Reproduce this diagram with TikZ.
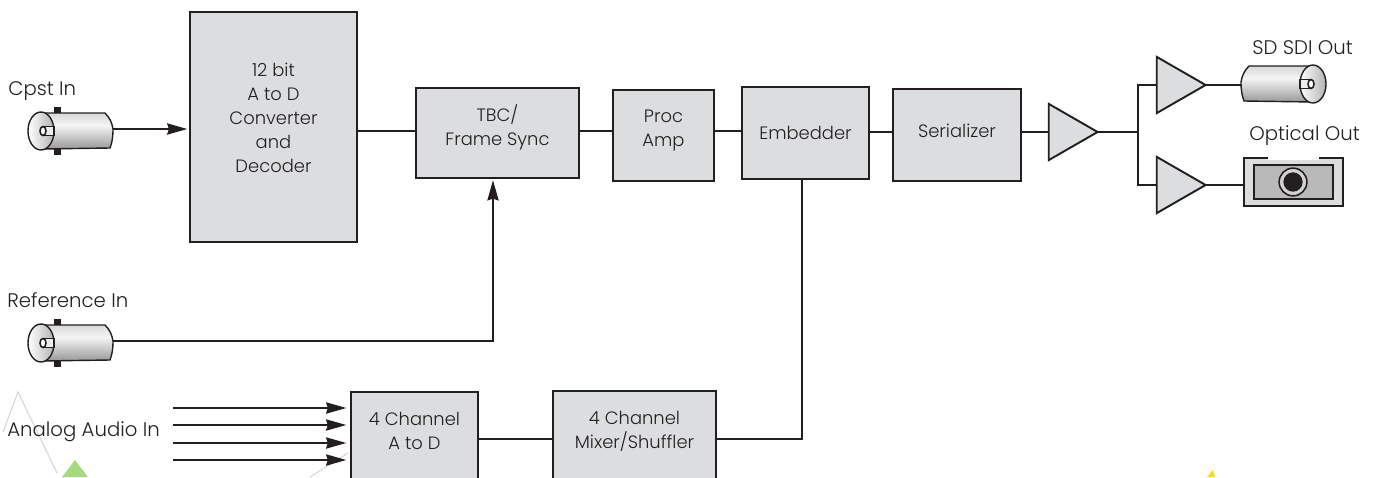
\documentclass[tikz,border=0pt]{standalone}
\usepackage{fontspec}
\setmainfont[UprightFont=* Light]{Poppins}
\usetikzlibrary{arrows.meta,shapes.geometric}
\definecolor{boxGray}{RGB}{220,221,223}
\definecolor{lineDark}{RGB}{35,31,32}
\pgfdeclareverticalshading{barrelgray}{100bp}{color(0bp)=(gray!80); color(25bp)=(gray!80);
  color(58bp)=(gray!8); color(75bp)=(gray!30); color(100bp)=(gray!30)}
\newcommand{\liftup}[1]{\\[\dimexpr#1-11pt\relax]\mbox{}}
\tikzset{
  blockbox/.style={rectangle, draw=lineDark, fill=boxGray, line width=1.1pt, inner sep=0pt,
                   align=center, font=\fontsize{10.2}{13.6}\selectfont, text=lineDark},
  tag/.style={anchor=west, inner sep=0pt, font=\fontsize{11.2}{12}\selectfont, text=lineDark},
  wire/.style={draw=lineDark, line width=1pt},
  feed/.style={wire, -{Stealth[length=11.5pt,width=6.4pt,inset=1pt]}, shorten >=1pt},
  amp/.style={isosceles triangle, isosceles triangle stretches, shape border rotate=0,
              draw=lineDark, fill=boxGray, line width=1.1pt, inner sep=0pt, outer sep=0pt,
              minimum height=27.8pt, minimum width=32pt},
  bnc/.pic={
    \shade[shading=barrelgray]
      (0,-18) -- (64,-18) .. controls (69,-13) and (71,-8) .. (72,-2)
      .. controls (72,6) and (71,12) .. (69,17) -- (0,18) -- cycle;
    \draw[lineDark, line width=0.8pt]
      (0,-18) -- (64,-18) .. controls (69,-13) and (71,-8) .. (72,-2)
      .. controls (72,6) and (71,12) .. (69,17) -- (0,18);
    \shade[left color=white, right color=gray!60] (0,0) ellipse (13 and 19);
    \draw[lineDark, line width=0.8pt] (0,0) ellipse (13 and 19);
    \filldraw[draw=lineDark, fill=gray!15, line width=0.7pt] (2,-4.5) rectangle (13,4.5);
    \draw[lineDark, line width=0.9pt, fill=white] (2,0) ellipse (3 and 4.5);
    \coordinate (-tip) at (72,-2);
  },
  tabs/.pic={
    \fill[lineDark] (13,-24) rectangle (20,-18);
    \fill[lineDark] (13,18) rectangle (20,24);
  }
}

\begin{document}
\begin{tikzpicture}[x=0.02cm, y=-0.02cm]
  \useasboundingbox (0,0) rectangle (1373,477);
  \clip (0,0) rectangle (1373,477);

  % faint marks along the lower edge
  \draw[gray!30, line width=0.7pt] (3,432) -- (18,392) -- (57,473);
  \draw[gray!30, line width=0.7pt] (348,453) -- (310,477);
  \fill[green!40!olive!50!white] (75,460) -- (62,477) -- (88,477) -- cycle;
  \fill[yellow!80!orange] (1213,470) -- (1207,477) -- (1215,477) -- cycle;

  % blocks
  \node[blockbox, minimum width=95pt, minimum height=130.4pt] (adc) at (273.5,127)
    {12 bit\\A to D\\Converter\\and\\Decoder\liftup{8pt}};
  \node[blockbox, minimum width=92.4pt, minimum height=51pt] (tbc) at (497.5,133)
    {TBC/\\Frame Sync\liftup{6.8pt}};
  \node[blockbox, minimum width=57.3pt, minimum height=51.6pt] (proc) at (663.5,135.5)
    {Proc\\Amp\liftup{5.7pt}};
  \node[blockbox, minimum width=72pt, minimum height=52.2pt] (embed) at (805.5,133) {Embedder};
  \node[blockbox, minimum width=72.6pt, minimum height=52.8pt] (serial) at (957,135)
    {Serializer\liftup{2.3pt}};
  \node[blockbox, minimum width=72pt, minimum height=55.5pt] (audio) at (414.5,441)
    {4 Channel\\A to D\liftup{9pt}};
  \node[blockbox, minimum width=92.4pt, minimum height=56pt] (mixer) at (634.5,440.5)
    {4 Channel\\Mixer/Shuffler\liftup{10pt}};

  % amplifiers
  \node[amp] (ampa) at (1065,132) {};
  \node[amp] (ampb) at (1173,85) {};
  \node[amp] (ampc) at (1173,185) {};

  % connectors
  \pic (cpst) at (41,131) {bnc};
  \pic at (41,131) {tabs};
  \pic (ref) at (41,343) {bnc};
  \pic at (41,343) {tabs};
  \pic[xscale=-1] (sdi) at (1313,84) {bnc};

  \node[rectangle, draw=lineDark, fill=boxGray, line width=1.1pt, minimum width=56pt,
        minimum height=27pt, inner sep=0pt] (optic) at (1293.5,182) {};
  \node[rectangle, draw=lineDark, fill=gray!55, line width=1.1pt, minimum width=44.8pt,
        minimum height=19.3pt, inner sep=0pt] (optin) at (1293.5,182) {};
  \fill[white] (1268,157) rectangle (1319,159.5);
  \node[circle, draw=lineDark, fill=gray!35, line width=0.9pt, minimum size=15.8pt,
        inner sep=0pt] (lensa) at (1293,182) {};
  \node[circle, fill=lineDark, minimum size=11pt, inner sep=0pt] (lensb) at (1293,182) {};

  % labels
  \node[tag] (cpstlbl) at (8,91) {Cpst In};
  \node[tag] (reflbl) at (7,300) {Reference In};
  \node[tag] (audiolbl) at (7,432) {Analog Audio In};
  \node[tag] (sdilbl) at (1252,48) {SD SDI Out};
  \node[tag] (optlbl) at (1249,136) {Optical Out};

  % signal path
  \coordinate (wa) at (0,131);
  \coordinate (wb) at (0,132);
  \coordinate (wc) at (0,439);
  \coordinate (refin) at (493,178.5);
  \coordinate (drop) at (802,439);
  \coordinate (fork) at (1138,132);
  \draw[feed] (cpst-tip) -- (adc.west |- cpst-tip);
  \draw[wire] (adc.east |- wa) -- (tbc.west |- wa);
  \draw[wire] (tbc.east |- wa) -- (proc.west |- wa);
  \draw[wire] (proc.east |- wa) -- (embed.west |- wa);
  \draw[wire] (embed.east |- wb) -- (serial.west |- wb);
  \draw[wire] (serial.east |- wb) -- (ampa.west |- wb);
  \draw[feed] (ref-tip) -| (refin);
  \draw[wire] (ampa.apex) -- (fork);
  \draw[wire] (ampb.west) -| (ampc.west -| fork) -- (ampc.west);
  \draw[wire] (ampb.apex) -- (sdi-tip |- ampb.apex);
  \draw[wire] (ampc.apex) -- (optic.west |- ampc.apex);
  \draw[wire] (embed.south -| drop) -- (drop) -- (mixer.east |- drop);
  \draw[wire] (audio.east |- wc) -- (mixer.west |- wc);

  % audio inputs
  \foreach \n/\y in {a/408,b/425,c/443,d/460}{
    \coordinate (ain\n) at (173,\y);
    \draw[feed, shorten >=2.3pt] (ain\n) -- (audio.west |- ain\n);
  }
\end{tikzpicture}
\end{document}
